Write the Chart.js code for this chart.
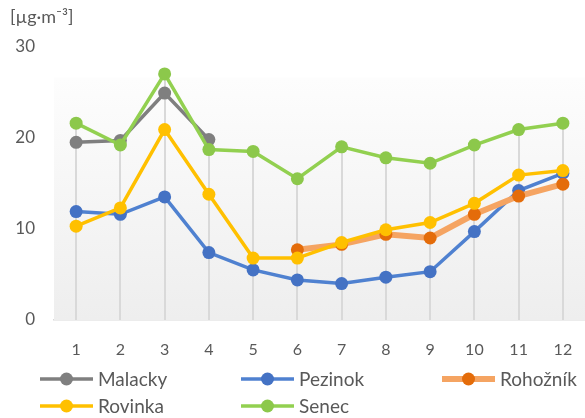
<!DOCTYPE html>
<html>
<head>
<meta charset="utf-8">
<script src="https://cdn.jsdelivr.net/npm/chart.js@4/dist/chart.umd.min.js"></script>
<style>
  html, body { margin: 0; padding: 0; background: #fff; }
  #wrap { width: 585px; height: 418px; }
</style>
</head>
<body>
<div id="wrap"><canvas id="chart-pm"></canvas></div>
<script>
var mesiace = ["1", "2", "3", "4", "5", "6", "7", "8", "9", "10", "11", "12"]
var malacky = [19.5, 19.7, 24.9, 19.8, null, null, null, null, null, null, null, null]
var pezinok = [11.9, 11.6, 13.5, 7.4, 5.5, 4.4, 4.0, 4.7, 5.3, 9.7, 14.2, 16.1]
var rohoznik = [null, null, null, null, null, 7.7, 8.3, 9.4, 9.0, 11.6, 13.6, 14.9]
var rovinka = [10.3, 12.3, 20.9, 13.8, 6.8, 6.8, 8.5, 9.9, 10.7, 12.8, 15.9, 16.4]
var senec = [21.6, 19.2, 27.0, 18.7, 18.5, 15.5, 19.0, 17.8, 17.2, 19.2, 20.9, 21.6]
var osY = [0, 10, 20, 30]

var pismo = "Lato, 'Open Sans', sans-serif"

function serie(nazov, data, ciara, bod, hrubka, poradie) {
  return {
    label: nazov,
    data: data,
    borderColor: ciara,
    backgroundColor: bod,
    pointBackgroundColor: bod,
    pointBorderWidth: 0,
    pointRadius: 6.5,
    borderWidth: hrubka,
    spanGaps: false,
    tension: 0,
    clip: false,
    order: poradie
  }
}

// pozadie grafu a zvislé čiary k osi
var pozadie = {
  id: 'pozadie',
  beforeDatasetsDraw: function (chart) {
    var ctx = chart.ctx
    var a = chart.chartArea
    var g = ctx.createLinearGradient(0, a.top, 0, a.bottom)
    g.addColorStop(0, '#ffffff')
    g.addColorStop(0.11, '#ffffff')
    g.addColorStop(0.115, '#fdfdfd')
    g.addColorStop(1, '#eeeeee')
    ctx.save()
    ctx.fillStyle = g
    ctx.fillRect(a.left, a.top, a.right - a.left, a.bottom - a.top)

    var x = chart.scales.x
    var y = chart.scales.y
    ctx.strokeStyle = '#d9d9d9'
    ctx.lineWidth = 2
    for (var i = 0; i < mesiace.length; i++) {
      var max = null
      chart.data.datasets.forEach(function (d) {
        var v = d.data[i]
        if (v !== null && (max === null || v > max)) max = v
      })
      if (max === null) continue
      var px = Math.round(x.getPixelForValue(i))
      ctx.beginPath()
      ctx.moveTo(px, y.getPixelForValue(max))
      ctx.lineTo(px, y.getPixelForValue(0))
      ctx.stroke()
    }
    ctx.restore()
  }
}

// legenda v dvoch riadkoch
var legenda = {
  id: 'legenda',
  afterDraw: function (chart) {
    var ctx = chart.ctx
    var stlpce = [40, 241, 442]
    var riadky = [379, 406]
    ctx.save()
    chart.data.datasets.forEach(function (d, i) {
      var x = stlpce[i % 3]
      var y = riadky[Math.floor(i / 3)]
      ctx.strokeStyle = d.borderColor
      ctx.lineWidth = d.borderWidth
      ctx.beginPath()
      ctx.moveTo(x, y)
      ctx.lineTo(x + 53, y)
      ctx.stroke()
      ctx.fillStyle = d.pointBackgroundColor
      ctx.beginPath()
      ctx.arc(x + 26.5, y, 6.5, 0, Math.PI * 2)
      ctx.fill()
      ctx.fillStyle = '#595959'
      ctx.font = '19px ' + pismo
      ctx.textBaseline = 'middle'
      ctx.textAlign = 'left'
      ctx.fillText(d.label, x + 58, y + 1)
    })
    ctx.restore()
  }
}

new Chart(document.getElementById("chart-pm"), {
  type: 'line',
  data: {
    labels: mesiace,
    datasets: [
      serie("Malacky", malacky, "#7f7f7f", "#7f7f7f", 3.5, 5),
      serie("Pezinok", pezinok, "#4f81d0", "#4472c4", 3.5, 4),
      serie("Rohožník", rohoznik, "#f5a462", "#e46c0a", 6, 3),
      serie("Rovinka", rovinka, "#ffc000", "#ffc000", 3.5, 2),
      serie("Senec", senec, "#92d050", "#8cc84b", 3.5, 1)
    ]
  },
  options: {
    responsive: true,
    maintainAspectRatio: false,
    animation: false,
    layout: { autoPadding: false, padding: { left: 10, right: -5, top: 0, bottom: 0 } },
    plugins: {
      legend: { display: false },
      tooltip: { enabled: false },
      title: {
        display: true,
        text: "[µg·m⁻³]",
        align: 'start',
        color: '#595959',
        font: { family: pismo, size: 18, weight: 'normal' },
        padding: { top: 6, bottom: 19 }
      }
    },
    scales: {
      x: {
        offset: true,
        grid: { display: false, drawTicks: false },
        border: { display: true, color: '#d9d9d9', width: 1.5 },
        ticks: { color: '#595959', font: { family: pismo, size: 16 }, padding: 20, maxRotation: 0 },
        afterFit: function (s) {
          s.height = 98
          s.paddingLeft = 0
          s.paddingRight = 0
        }
      },
      y: {
        min: 0,
        max: 30,
        afterBuildTicks: function (s) { s.ticks = osY.map(function (v) { return { value: v } }) },
        grid: { display: false, drawTicks: false },
        border: { display: false },
        ticks: { color: '#595959', font: { family: pismo, size: 17 }, padding: 19 },
        afterFit: function (s) { s.width = 44 }
      }
    }
  },
  plugins: [pozadie, legenda]
});
</script>
</body>
</html>
